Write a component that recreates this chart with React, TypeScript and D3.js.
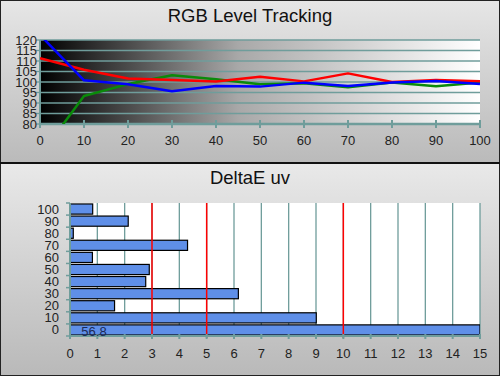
import React from "react";
import * as d3 from "d3";

const levels = [0, 10, 20, 30, 40, 50, 60, 70, 80, 90, 100];
const redValues = [111.3, 105.8, 101.7, 100.9, 100.2, 102.5, 100.3, 104.1, 100.0, 101.0, 100.3];
const greenValues = [65, 93.3, 99.0, 103.2, 101.3, 98.9, 99.4, 97.5, 99.8, 98.0, 99.8];
const blueValues = [122.4, 100.8, 98.9, 95.6, 98.1, 97.8, 99.7, 98.1, 99.8, 100.5, 99.0];
const yTicksTop = [80, 85, 90, 95, 100, 105, 110, 115, 120];

const deltaCategories = ["0", "10", "20", "30", "40", "50", "60", "70", "80", "90", "100"];
const deltaValues = [56.8, 9.01, 1.63, 6.16, 2.77, 2.9, 0.82, 4.3, 0.12, 2.13, 0.83];
const deltaXTicks = d3.range(0, 16);
const redThresholds = [3, 5, 10];

const GRID = "#6f9d9b";
const FONT = "'Liberation Sans', Arial, sans-serif";

export default function App() {
  // Top chart
  const tx = d3.scaleLinear().domain([0, 100]).range([40, 480]);
  const ty = d3.scaleLinear().domain([80, 120]).range([124, 40]);
  const line = d3
    .line<number>()
    .x((_, i) => tx(levels[i]))
    .y((d) => ty(d));
  const series = [
    { vals: greenValues, color: "#0a8a0a" },
    { vals: redValues, color: "#ff0000" },
    { vals: blueValues, color: "#0000ff" },
  ];

  // Bottom chart
  const bx = d3.scaleLinear().domain([0, 15]).range([70, 480]);
  const by = d3
    .scaleBand<string>()
    .domain([...deltaCategories].reverse())
    .range([203, 336])
    .paddingInner(0.16)
    .paddingOuter(0.08);
  const bandStep = (336 - 203) / deltaCategories.length;

  return (
    <svg
      width={500}
      height={376}
      style={{ position: "absolute", left: 0, top: 0, fontFamily: FONT }}
    >
      <defs>
        <linearGradient id="panelTop" x1="0" y1="0" x2="0" y2="1">
          <stop offset="0" stopColor="#e6e6e6" />
          <stop offset="1" stopColor="#bababa" />
        </linearGradient>
        <linearGradient id="panelBot" x1="0" y1="0" x2="0" y2="1">
          <stop offset="0" stopColor="#e9e9e9" />
          <stop offset="1" stopColor="#b9b9b9" />
        </linearGradient>
        <linearGradient id="plotGrad" x1="0" y1="0" x2="1" y2="0">
          <stop offset="0" stopColor="#000000" />
          <stop offset="0.45" stopColor="#a8a8a8" />
          <stop offset="1" stopColor="#ffffff" />
        </linearGradient>
        <clipPath id="topClip">
          <rect x={40} y={40} width={440} height={84} />
        </clipPath>
        <clipPath id="botClip">
          <rect x={70} y={203} width={410} height={133} />
        </clipPath>
      </defs>

      {/* panels */}
      <rect x={0} y={0} width={500} height={163} fill="url(#panelTop)" />
      <rect x={0} y={163} width={500} height={213} fill="url(#panelBot)" />
      <rect x={0.5} y={0.5} width={499} height={375} fill="none" stroke="#222" strokeWidth={1} />
      <line x1={0} x2={500} y1={163} y2={163} stroke="#111" strokeWidth={2} />

      {/* Top title */}
      <text x={250} y={22} textAnchor="middle" fontSize={18.5} fill="#111">
        RGB Level Tracking
      </text>

      {/* Top plot */}
      <rect x={40} y={40} width={440} height={84} fill="url(#plotGrad)" />
      {yTicksTop.map((t) => (
        <g key={t}>
          <line x1={40} x2={480} y1={ty(t)} y2={ty(t)} stroke={GRID} strokeWidth={1.3} />
          <line x1={36} x2={40} y1={ty(t)} y2={ty(t)} stroke={GRID} strokeWidth={1.3} />
          <text x={37} y={ty(t) + 4.5} textAnchor="end" fontSize={13} fill="#222">
            {t}
          </text>
        </g>
      ))}
      <line x1={40} x2={40} y1={40} y2={124} stroke={GRID} strokeWidth={2} />
      <line x1={40} x2={480} y1={124} y2={124} stroke={GRID} strokeWidth={2.5} />
      {levels.map((l) => (
        <g key={l}>
          <line x1={tx(l)} x2={tx(l)} y1={120} y2={128} stroke={GRID} strokeWidth={2} />
          <text x={tx(l)} y={145} textAnchor="middle" fontSize={13} fill="#222">
            {l}
          </text>
        </g>
      ))}
      <g clipPath="url(#topClip)">
        {series.map((s) => (
          <path
            key={s.color}
            d={line(s.vals) || ""}
            fill="none"
            stroke={s.color}
            strokeWidth={2.5}
            strokeLinejoin="round"
          />
        ))}
      </g>

      {/* Bottom title */}
      <text x={250} y={184} textAnchor="middle" fontSize={18.5} fill="#111">
        DeltaE uv
      </text>

      {/* Bottom plot */}
      <rect x={70} y={203} width={410} height={133} fill="#ffffff" />
      {deltaXTicks.map((t) => (
        <line
          key={"g" + t}
          x1={bx(t)}
          x2={bx(t)}
          y1={203}
          y2={336}
          stroke={GRID}
          strokeWidth={1.3}
        />
      ))}
      <g clipPath="url(#botClip)">
        {deltaCategories.map((c, i) => (
          <rect
            key={c}
            x={bx(0)}
            y={by(c)}
            width={bx(Math.min(deltaValues[i], 15)) - bx(0)}
            height={by.bandwidth()}
            fill="#5f8fe8"
            stroke="#000"
            strokeWidth={1.2}
          />
        ))}
      </g>
      {redThresholds.map((t) => (
        <line key={"r" + t} x1={bx(t)} x2={bx(t)} y1={203} y2={338} stroke="#ff0000" strokeWidth={1.5} />
      ))}
      <line x1={70} x2={70} y1={203} y2={336} stroke={GRID} strokeWidth={2} />
      <line x1={70} x2={480} y1={336} y2={336} stroke={GRID} strokeWidth={2} />
      {d3.range(0, deltaCategories.length + 1).map((k) => (
        <line
          key={"yt" + k}
          x1={66}
          x2={70}
          y1={203 + k * bandStep}
          y2={203 + k * bandStep}
          stroke={GRID}
          strokeWidth={1.5}
        />
      ))}
      {deltaCategories.map((c) => (
        <text
          key={"yl" + c}
          x={59}
          y={(by(c) || 0) + by.bandwidth() / 2 + 4.5}
          textAnchor="end"
          fontSize={13}
          fill="#222"
        >
          {c}
        </text>
      ))}
      {deltaXTicks.map((t) => (
        <g key={"xt" + t}>
          <line x1={bx(t)} x2={bx(t)} y1={334} y2={339} stroke={GRID} strokeWidth={2} />
          <text x={bx(t)} y={358} textAnchor="middle" fontSize={13} fill="#222">
            {t}
          </text>
        </g>
      ))}
      <text
        x={94}
        y={(by("0") || 0) + by.bandwidth() + 0.5}
        textAnchor="middle"
        fontSize={13}
        fill="#1c2a55"
      >
        {deltaValues[0].toFixed(1)}
      </text>
    </svg>
  );
}
